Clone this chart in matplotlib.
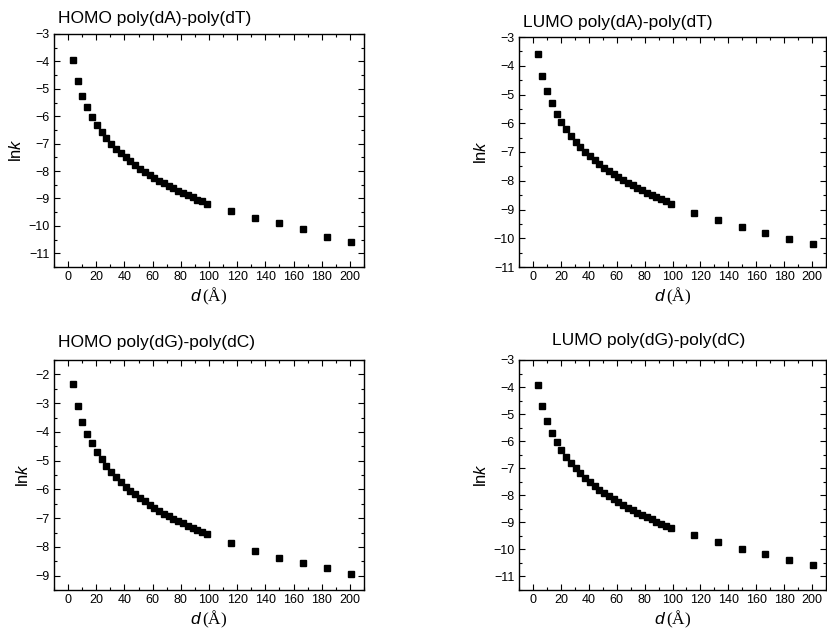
import matplotlib.pyplot as plt
from matplotlib.ticker import MultipleLocator

plt.rcParams['font.family'] = ['Liberation Sans', 'DejaVu Sans']
plt.rcParams['mathtext.fontset'] = 'custom'
plt.rcParams['mathtext.it'] = 'Liberation Sans:italic'
plt.rcParams['mathtext.rm'] = 'Liberation Serif'

# distance d (Angstrom): 3.4 A per base pair
n_bp = list(range(1, 30)) + [34, 39, 44, 49, 54, 59]
d = [round(3.4 * n, 1) for n in n_bp]

homo_at = [-3.94, -4.71, -5.25, -5.67, -6.02, -6.31, -6.57, -6.79, -7.00, -7.18,
           -7.35, -7.50, -7.65, -7.78, -7.91, -8.03, -8.14, -8.25, -8.35, -8.45,
           -8.54, -8.63, -8.72, -8.80, -8.88, -8.96, -9.04, -9.11, -9.20,
           -9.44, -9.72, -9.89, -10.12, -10.41, -10.59]
lumo_at = [-3.58, -4.35, -4.88, -5.29, -5.67, -5.97, -6.21, -6.46, -6.65, -6.81,
           -6.99, -7.15, -7.29, -7.42, -7.55, -7.67, -7.78, -7.88, -7.98, -8.07,
           -8.16, -8.25, -8.33, -8.41, -8.49, -8.57, -8.64, -8.72, -8.81,
           -9.11, -9.38, -9.62, -9.83, -10.01, -10.19]
homo_gc = [-2.34, -3.10, -3.65, -4.06, -4.40, -4.70, -4.95, -5.17, -5.38, -5.57,
           -5.74, -5.90, -6.04, -6.17, -6.30, -6.42, -6.53, -6.64, -6.74, -6.84,
           -6.93, -7.02, -7.10, -7.18, -7.26, -7.34, -7.42, -7.49, -7.56,
           -7.87, -8.14, -8.37, -8.57, -8.73, -8.95]
lumo_gc = [-3.93, -4.70, -5.26, -5.68, -6.04, -6.33, -6.57, -6.81, -7.00, -7.19,
           -7.36, -7.52, -7.66, -7.79, -7.92, -8.04, -8.15, -8.26, -8.36, -8.46,
           -8.55, -8.64, -8.73, -8.81, -8.89, -8.97, -9.05, -9.13, -9.22,
           -9.48, -9.74, -10.00, -10.18, -10.39, -10.57]

titles = ['HOMO poly(dA)-poly(dT)', 'LUMO poly(dA)-poly(dT)',
          'HOMO poly(dG)-poly(dC)', 'LUMO poly(dG)-poly(dC)']
series = [homo_at, lumo_at, homo_gc, lumo_gc]
ylims = [(-11.5, -3), (-11, -3), (-9.5, -1.5), (-11.5, -3)]

W, H = 827, 637
# axes boxes in pixels: left, top, right, bottom
boxes = [(54, 34, 364, 267), (519, 37, 826, 267),
         (54, 360, 364, 590), (519, 360, 826, 590)]
title_pos = [(58, 18), (523, 22), (58, 343), (552, 340)]

fig = plt.figure(figsize=(W / 100, H / 100), dpi=100)

for i in range(4):
    l, t, r, b = boxes[i]
    ax = fig.add_axes([l / W, 1 - b / H, (r - l) / W, (b - t) / H])
    ax.plot(d, series[i], 's', color='black', ms=4.3, mec='black')
    ax.set_xlim(-10, 210)
    ax.set_ylim(*ylims[i])
    ax.xaxis.set_major_locator(MultipleLocator(20))
    ax.xaxis.set_minor_locator(MultipleLocator(10))
    ax.yaxis.set_major_locator(MultipleLocator(1))
    ax.yaxis.set_minor_locator(MultipleLocator(0.5))
    ax.tick_params(which='both', direction='in', top=True, right=True,
                   labelsize=9, width=0.8, pad=3)
    ax.tick_params(which='major', length=4)
    ax.tick_params(which='minor', length=2.5)
    for s in ax.spines.values():
        s.set_linewidth(1.0)
    ax.set_xlabel(r'$d\,\mathrm{(Å)}$', fontsize=12.5, labelpad=2)
    ax.set_ylabel(r'ln$\mathit{k}$', fontsize=12, labelpad=3)
    tx, ty = title_pos[i]
    fig.text(tx / W, 1 - ty / H, titles[i], fontsize=12.5, ha='left', va='center')

fig.savefig('out.png', dpi=100)
